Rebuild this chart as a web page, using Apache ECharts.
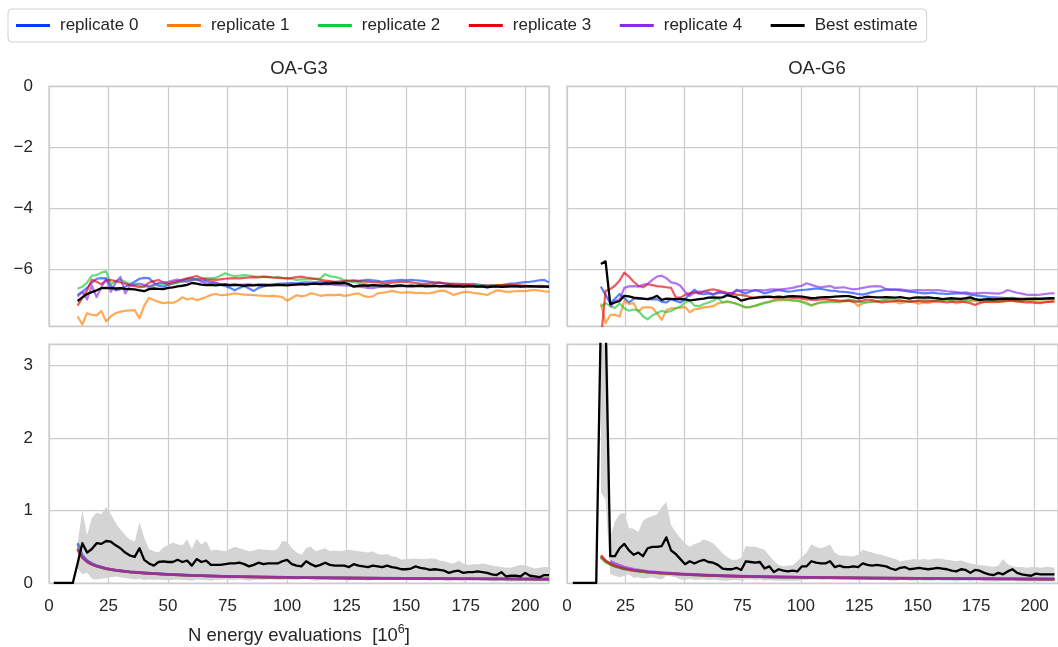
<!DOCTYPE html>
<html>
<head>
<meta charset="utf-8">
<title>OA-G3 / OA-G6 convergence</title>
<script src="https://cdn.jsdelivr.net/npm/echarts@6.0.0/dist/echarts.min.js"></script>
<style>
  html, body { margin: 0; padding: 0; background: #ffffff; }
  #chart { width: 1058px; height: 647px; }
</style>
</head>
<body>
<div id="chart"></div>
<script>
// ---------------------------------------------------------------------------
// Sampling checkpoints (N energy evaluations, in units of 10^6)
// ---------------------------------------------------------------------------
const xG3 = [];
for (let x = 12; x <= 210; x += 2) xG3.push(x);
const xG6 = [];
for (let x = 14.5; x <= 208.5; x += 2) xG6.push(x);

// checkpoints before the first estimate (uncertainty reported as zero)
const xG3Early = [2, 4, 6, 8, 10];
const g3BestUncEarly = [0, 0, 0, 0, 0];
const xG6Early = [2.5, 4.5, 6.5, 8.5, 10.5, 12.5];
const g6BestUncEarly = [0, 0, 0, 0, 0, 0];

// ---------------------------------------------------------------------------
// OA-G3 free energy estimates (kcal/mol)
// ---------------------------------------------------------------------------
const g3Rep0 = [
  -6.85, -6.75, -6.62, -6.45, -6.32, -6.30, -6.31, -6.55, -6.70, -6.66,
  -6.58, -6.50, -6.42, -6.32, -6.29, -6.30, -6.45, -6.55, -6.58, -6.52,
  -6.48, -6.43, -6.38, -6.33, -6.31, -6.34, -6.37, -6.40, -6.42, -6.45,
  -6.52, -6.56, -6.62, -6.70, -6.62, -6.56, -6.64, -6.72, -6.62, -6.57,
  -6.53, -6.50, -6.49, -6.48, -6.47, -6.46, -6.47, -6.45, -6.44, -6.45,
  -6.44, -6.43, -6.44, -6.42, -6.43, -6.42, -6.41, -6.40, -6.38, -6.39,
  -6.37, -6.36, -6.37, -6.39, -6.42, -6.40, -6.38, -6.37, -6.36, -6.37,
  -6.36, -6.37, -6.38, -6.40, -6.42, -6.44, -6.45, -6.47, -6.49, -6.50,
  -6.52, -6.51, -6.50, -6.49, -6.51, -6.53, -6.55, -6.54, -6.56, -6.53,
  -6.50, -6.48, -6.47, -6.45, -6.43, -6.42, -6.40, -6.37, -6.36, -6.44
];
const g3Rep1 = [
  -7.55, -7.82, -7.45, -7.50, -7.52, -7.38, -7.72, -7.55, -7.45, -7.40,
  -7.37, -7.36, -7.35, -7.62, -7.20, -6.95, -7.02, -7.08, -7.12, -7.10,
  -7.11, -7.05, -6.93, -7.00, -6.96, -7.02, -6.98, -6.92, -6.85, -6.82,
  -6.86, -6.85, -6.83, -6.80, -6.82, -6.84, -6.85, -6.86, -6.87, -6.88,
  -6.89, -6.88, -6.90, -6.92, -7.04, -6.95, -6.86, -6.90, -6.87, -6.80,
  -6.83, -6.88, -6.86, -6.85, -6.86, -6.84, -6.88, -6.86, -6.82, -6.80,
  -6.88, -6.92, -6.90, -6.80, -6.78, -6.76, -6.72, -6.75, -6.78, -6.77,
  -6.77, -6.79, -6.78, -6.80, -6.79, -6.76, -6.72, -6.71, -6.78, -6.85,
  -6.80, -6.76, -6.75, -6.78, -6.80, -6.82, -6.85, -6.78, -6.70, -6.72,
  -6.75, -6.74, -6.73, -6.72, -6.73, -6.70, -6.69, -6.71, -6.73, -6.75
];
const g3Rep2 = [
  -6.65, -6.58, -6.45, -6.22, -6.20, -6.12, -6.08, -6.50, -6.40, -6.35,
  -6.42, -6.50, -6.53, -6.55, -6.56, -6.60, -6.55, -6.48, -6.50, -6.49,
  -6.47, -6.45, -6.42, -6.38, -6.36, -6.34, -6.32, -6.30, -6.31, -6.29,
  -6.22, -6.14, -6.20, -6.23, -6.22, -6.20, -6.22, -6.24, -6.25, -6.26,
  -6.27, -6.28, -6.26, -6.29, -6.31, -6.33, -6.36, -6.34, -6.33, -6.34,
  -6.32, -6.31, -6.17, -6.24, -6.26, -6.30, -6.36, -6.40, -6.43, -6.45,
  -6.48, -6.52, -6.55, -6.57, -6.58, -6.57, -6.58, -6.56, -6.57, -6.56,
  -6.56, -6.54, -6.53, -6.52, -6.54, -6.55, -6.56, -6.57, -6.58, -6.57,
  -6.58, -6.57, -6.56, -6.55, -6.54, -6.53, -6.55, -6.53, -6.52, -6.53,
  -6.54, -6.55, -6.56, -6.55, -6.56, -6.57, -6.58, -6.57, -6.58, -6.58
];
const g3Rep3 = [
  -7.20, -6.95, -6.70, -6.35, -6.42, -6.50, -6.38, -6.36, -6.40, -6.44,
  -6.48, -6.53, -6.56, -6.60, -6.58, -6.45, -6.40, -6.36, -6.44, -6.49,
  -6.43, -6.40, -6.35, -6.31, -6.27, -6.23, -6.30, -6.34, -6.35, -6.36,
  -6.34, -6.32, -6.31, -6.30, -6.31, -6.29, -6.28, -6.27, -6.28, -6.25,
  -6.26, -6.28, -6.29, -6.30, -6.31, -6.29, -6.27, -6.25, -6.28, -6.30,
  -6.33, -6.36, -6.38, -6.40, -6.42, -6.41, -6.40, -6.38, -6.38, -6.40,
  -6.41, -6.42, -6.43, -6.44, -6.46, -6.47, -6.45, -6.43, -6.42, -6.42,
  -6.44, -6.46, -6.48, -6.49, -6.47, -6.46, -6.45, -6.47, -6.48, -6.49,
  -6.49, -6.50, -6.52, -6.54, -6.56, -6.55, -6.54, -6.55, -6.54, -6.53,
  -6.53, -6.52, -6.53, -6.54, -6.55, -6.56, -6.56, -6.55, -6.56, -6.56
];
const g3Rep4 = [
  -6.90, -6.75, -7.00, -6.55, -6.92, -6.60, -6.32, -6.75, -6.45, -6.26,
  -6.80, -6.55, -6.50, -6.48, -6.52, -6.57, -6.52, -6.46, -6.45, -6.42,
  -6.38, -6.35, -6.40, -6.42, -6.37, -6.34, -6.42, -6.48, -6.47, -6.47,
  -6.49, -6.50, -6.51, -6.50, -6.52, -6.51, -6.50, -6.52, -6.51, -6.50,
  -6.51, -6.52, -6.50, -6.51, -6.52, -6.51, -6.50, -6.49, -6.50, -6.49,
  -6.48, -6.50, -6.51, -6.50, -6.52, -6.53, -6.54, -6.55, -6.56, -6.58,
  -6.60, -6.62, -6.63, -6.60, -6.58, -6.57, -6.58, -6.56, -6.55, -6.56,
  -6.57, -6.56, -6.55, -6.56, -6.57, -6.56, -6.55, -6.56, -6.57, -6.56,
  -6.57, -6.58, -6.56, -6.57, -6.58, -6.57, -6.59, -6.58, -6.57, -6.58,
  -6.57, -6.56, -6.57, -6.58, -6.57, -6.56, -6.57, -6.58, -6.57, -6.58
];
const g3Best = [
  -7.05, -6.93, -6.82, -6.76, -6.70, -6.63, -6.62, -6.63, -6.64, -6.63,
  -6.65, -6.66, -6.67, -6.70, -6.73, -6.66, -6.64, -6.65, -6.66, -6.62,
  -6.60, -6.57, -6.55, -6.52, -6.46, -6.48, -6.51, -6.53, -6.52, -6.54,
  -6.52, -6.51, -6.54, -6.52, -6.53, -6.55, -6.53, -6.54, -6.52, -6.54,
  -6.53, -6.54, -6.52, -6.53, -6.54, -6.52, -6.51, -6.50, -6.51, -6.49,
  -6.48, -6.50, -6.47, -6.48, -6.46, -6.47, -6.46, -6.50, -6.58, -6.55,
  -6.54, -6.55, -6.53, -6.54, -6.55, -6.54, -6.56, -6.55, -6.54, -6.56,
  -6.55, -6.56, -6.55, -6.57, -6.56, -6.55, -6.57, -6.56, -6.55, -6.57,
  -6.56, -6.58, -6.56, -6.57, -6.58, -6.57, -6.60, -6.58, -6.57, -6.59,
  -6.58, -6.57, -6.56, -6.58, -6.57, -6.56, -6.57, -6.58, -6.58, -6.59
];

// OA-G3 uncertainties (kcal/mol)
const g3BestUnc = [
  0.27, 0.55, 0.42, 0.47, 0.55, 0.54, 0.58, 0.57, 0.52, 0.48,
  0.42, 0.38, 0.36, 0.48, 0.32, 0.27, 0.24, 0.29, 0.30, 0.29,
  0.29, 0.32, 0.29, 0.31, 0.24, 0.33, 0.29, 0.31, 0.25, 0.25,
  0.25, 0.26, 0.27, 0.27, 0.28, 0.26, 0.23, 0.25, 0.28, 0.26,
  0.27, 0.27, 0.27, 0.30, 0.32, 0.26, 0.24, 0.23, 0.30, 0.26,
  0.23, 0.25, 0.28, 0.25, 0.24, 0.24, 0.24, 0.22, 0.26, 0.24,
  0.23, 0.22, 0.24, 0.23, 0.22, 0.24, 0.22, 0.21, 0.19, 0.19,
  0.20, 0.23, 0.21, 0.20, 0.18, 0.19, 0.18, 0.17, 0.14, 0.16,
  0.17, 0.14, 0.15, 0.15, 0.16, 0.15, 0.14, 0.12, 0.11, 0.15,
  0.09, 0.10, 0.10, 0.09, 0.14, 0.10, 0.09, 0.08, 0.11, 0.11
];
const g3BandHi = [
  0.55, 1.00, 0.66, 0.90, 0.97, 0.95, 1.05, 0.95, 0.83, 0.74,
  0.66, 0.60, 0.57, 0.84, 0.62, 0.47, 0.44, 0.42, 0.49, 0.52,
  0.56, 0.53, 0.52, 0.60, 0.47, 0.61, 0.53, 0.58, 0.45, 0.46,
  0.45, 0.44, 0.47, 0.50, 0.48, 0.46, 0.44, 0.45, 0.47, 0.46,
  0.46, 0.45, 0.47, 0.58, 0.57, 0.48, 0.42, 0.39, 0.48, 0.50,
  0.44, 0.46, 0.48, 0.44, 0.45, 0.44, 0.45, 0.46, 0.45, 0.44,
  0.43, 0.42, 0.44, 0.40, 0.39, 0.40, 0.37, 0.36, 0.32, 0.33,
  0.33, 0.34, 0.33, 0.33, 0.34, 0.34, 0.31, 0.30, 0.28, 0.27,
  0.31, 0.27, 0.25, 0.26, 0.26, 0.27, 0.26, 0.24, 0.23, 0.22,
  0.21, 0.21, 0.23, 0.25, 0.24, 0.22, 0.20, 0.21, 0.22, 0.22
];
const g3BandLo = [
  0.20, 0.12, 0.14, 0.06, 0.05, 0.06, 0.07, 0.08, 0.09, 0.08,
  0.07, 0.06, 0.05, 0.06, 0.04, 0.05, 0.04, 0.05, 0.04, 0.04,
  0.04, 0.05, 0.04, 0.04, 0.03, 0.05, 0.04, 0.04, 0.03, 0.04,
  0.04, 0.05, 0.04, 0.04, 0.05, 0.04, 0.03, 0.04, 0.05, 0.04,
  0.05, 0.05, 0.04, 0.04, 0.05, 0.04, 0.04, 0.05, 0.06, 0.04,
  0.03, 0.04, 0.05, 0.04, 0.04, 0.04, 0.04, 0.03, 0.05, 0.04,
  0.04, 0.03, 0.04, 0.05, 0.04, 0.05, 0.04, 0.04, 0.04, 0.04,
  0.05, 0.06, 0.05, 0.04, 0.03, 0.04, 0.04, 0.03, 0.02, 0.03,
  0.03, 0.02, 0.03, 0.03, 0.04, 0.03, 0.03, 0.02, 0.02, 0.04,
  0.02, 0.02, 0.02, 0.02, 0.03, 0.02, 0.02, 0.02, 0.02, 0.02
];
// per-replicate statistical uncertainty, read at coarser checkpoints
const xG3Unc = [12, 14, 16, 18, 20, 24, 28, 34, 40, 50, 60, 75, 90, 110, 130, 150, 175, 200, 210];
const g3Unc0 = [0.55, 0.38, 0.31, 0.27, 0.24, 0.20, 0.18, 0.155, 0.14, 0.12, 0.105, 0.09, 0.082, 0.074, 0.068, 0.064, 0.059, 0.055, 0.054];
const g3Unc1 = [0.50, 0.36, 0.30, 0.26, 0.235, 0.20, 0.175, 0.152, 0.137, 0.118, 0.104, 0.09, 0.081, 0.073, 0.067, 0.063, 0.058, 0.055, 0.053];
const g3Unc2 = [0.48, 0.35, 0.30, 0.26, 0.23, 0.195, 0.172, 0.15, 0.135, 0.117, 0.103, 0.089, 0.08, 0.072, 0.067, 0.062, 0.058, 0.054, 0.053];
const g3Unc3 = [0.46, 0.35, 0.29, 0.255, 0.23, 0.197, 0.174, 0.151, 0.136, 0.118, 0.104, 0.09, 0.081, 0.073, 0.067, 0.063, 0.058, 0.055, 0.054];
const g3Unc4 = [0.47, 0.36, 0.30, 0.26, 0.235, 0.20, 0.176, 0.153, 0.138, 0.119, 0.105, 0.091, 0.082, 0.074, 0.068, 0.064, 0.059, 0.056, 0.054];

// ---------------------------------------------------------------------------
// OA-G6 free energy estimates (kcal/mol)
// ---------------------------------------------------------------------------
const g6Rep0 = [
  -6.58, -6.85, -7.12, -6.98, -6.82, -6.96, -7.10, -6.98, -6.96, -6.98,
  -6.99, -7.00, -6.99, -7.08, -7.10, -6.99, -7.05, -7.10, -6.99, -6.82,
  -6.68, -6.80, -6.83, -6.80, -6.84, -6.76, -6.78, -6.82, -6.84, -6.68,
  -6.75, -6.80, -6.74, -6.69, -6.74, -6.80, -6.76, -6.72, -6.69, -6.72,
  -6.74, -6.73, -6.70, -6.69, -6.68, -6.66, -6.64, -6.65, -6.68, -6.71,
  -6.72, -6.74, -6.75, -6.77, -6.79, -6.82, -6.84, -6.80, -6.76, -6.73,
  -6.70, -6.68, -6.67, -6.68, -6.70, -6.72, -6.74, -6.76, -6.78, -6.80,
  -6.79, -6.78, -6.80, -6.81, -6.82, -6.81, -6.80, -6.79, -6.81, -6.84,
  -6.86, -6.88, -6.90, -6.92, -6.93, -6.94, -6.95, -6.96, -6.95, -6.96,
  -6.97, -6.96, -6.97, -6.98, -6.97, -6.96, -6.97, -6.96
];
const g6Rep1 = [
  -7.13, -7.78, -7.51, -7.50, -7.56, -7.05, -7.15, -7.12, -7.40, -7.26,
  -7.26, -7.27, -7.45, -7.67, -7.35, -7.29, -7.29, -7.27, -7.25, -7.42,
  -7.32, -7.30, -7.26, -7.24, -7.22, -7.13, -7.10, -7.08, -7.10, -7.13,
  -7.21, -7.26, -7.25, -7.20, -7.16, -7.10, -7.08, -7.05, -7.03, -7.02,
  -7.02, -7.03, -7.05, -7.07, -7.10, -7.21, -7.14, -7.10, -7.08, -7.04,
  -7.06, -7.10, -7.06, -7.04, -7.08, -7.21, -7.13, -7.10, -7.08, -7.07,
  -7.06, -7.04, -7.05, -7.08, -7.13, -7.09, -7.07, -7.09, -7.14, -7.10,
  -7.12, -7.08, -7.06, -7.04, -7.03, -7.06, -7.13, -7.09, -7.06, -7.04,
  -7.05, -7.07, -7.07, -7.08, -7.09, -7.08, -7.06, -7.04, -7.05, -7.06,
  -7.07, -7.06, -7.05, -7.07, -7.08, -7.07, -7.06, -7.05
];
const g6Rep2 = [
  -7.24, -7.12, -7.22, -7.28, -7.13, -7.29, -7.37, -7.33, -7.36, -7.55,
  -7.65, -7.52, -7.45, -7.37, -7.42, -7.38, -7.29, -7.23, -7.10, -7.04,
  -7.20, -7.22, -7.15, -7.10, -7.04, -6.95, -7.10, -7.06, -7.10, -7.15,
  -7.20, -7.26, -7.24, -7.21, -7.16, -7.12, -7.08, -7.02, -6.99, -7.00,
  -7.01, -7.03, -7.04, -7.08, -7.15, -7.18, -7.14, -7.10, -7.10, -7.09,
  -7.08, -7.06, -7.03, -7.00, -7.02, -7.07, -7.10, -7.08, -7.07, -7.06,
  -7.03, -7.00, -6.98, -7.01, -7.04, -7.06, -7.07, -7.05, -7.03, -7.02,
  -7.03, -7.04, -7.02, -7.00, -7.01, -7.02, -7.01, -7.00, -7.02, -7.01,
  -7.00, -6.99, -7.01, -7.02, -7.04, -7.03, -7.02, -7.01, -7.00, -7.01,
  -7.00, -6.99, -7.00, -7.01, -7.00, -6.99, -6.98, -6.98
];
const g6Rep3 = [
  -8.30, -6.72, -6.66, -6.55, -6.38, -6.12, -6.25, -6.42, -6.55, -6.60,
  -6.50, -6.53, -6.56, -6.58, -6.60, -6.62, -6.93, -6.94, -6.85, -6.80,
  -6.76, -6.80, -6.74, -6.69, -6.67, -6.70, -6.74, -6.78, -6.80, -6.85,
  -6.85, -6.88, -6.92, -6.93, -6.91, -6.90, -6.92, -6.93, -6.94, -6.93,
  -6.93, -6.95, -6.96, -6.97, -7.00, -7.01, -7.02, -7.00, -6.99, -7.01,
  -7.02, -7.04, -7.05, -7.04, -7.07, -7.06, -7.04, -7.00, -7.02, -7.06,
  -7.10, -7.08, -7.07, -7.05, -7.04, -7.05, -7.07, -7.06, -7.05, -7.07,
  -7.06, -7.05, -7.06, -7.08, -7.10, -7.08, -7.07, -7.06, -7.09, -7.12,
  -7.18, -7.12, -7.08, -7.07, -7.06, -7.07, -7.06, -7.05, -7.04, -7.06,
  -7.08, -7.10, -7.09, -7.11, -7.12, -7.09, -7.08, -7.07
];
const g6Rep4 = [
  null, null, -7.25, -7.05, -7.00, -6.62, -6.57, -6.56, -6.58, -6.52,
  -6.49, -6.36, -6.25, -6.22, -6.30, -6.44, -6.47, -6.55, -6.75, -6.88,
  -6.78, -6.74, -6.74, -6.76, -6.84, -6.79, -6.77, -6.80, -6.78, -6.72,
  -6.70, -6.69, -6.71, -6.70, -6.69, -6.70, -6.68, -6.67, -6.68, -6.66,
  -6.64, -6.62, -6.58, -6.55, -6.47, -6.52, -6.57, -6.60, -6.58, -6.56,
  -6.62, -6.61, -6.60, -6.64, -6.67, -6.65, -6.62, -6.59, -6.57, -6.56,
  -6.58, -6.66, -6.69, -6.68, -6.67, -6.69, -6.71, -6.70, -6.69, -6.70,
  -6.69, -6.70, -6.69, -6.71, -6.73, -6.74, -6.76, -6.78, -6.77, -6.79,
  -6.80, -6.79, -6.78, -6.79, -6.80, -6.81, -6.77, -6.69, -6.74, -6.78,
  -6.81, -6.84, -6.85, -6.85, -6.84, -6.82, -6.80, -6.80
];
const g6Best = [
  -5.84, -5.75, -7.15, -7.10, -7.05, -6.88, -6.90, -6.94, -6.96, -6.97,
  -6.99, -6.95, -6.88, -7.01, -6.97, -6.98, -6.99, -6.98, -7.00, -7.03,
  -7.01, -6.99, -6.97, -6.94, -6.93, -6.94, -6.93, -6.86, -6.90, -6.93,
  -7.04, -7.00, -6.96, -6.95, -6.93, -6.92, -6.91, -6.92, -6.91, -6.92,
  -6.90, -6.89, -6.90, -6.91, -6.93, -6.96, -6.95, -6.93, -6.92, -6.92,
  -6.91, -6.90, -6.89, -6.89, -6.92, -6.96, -6.94, -6.91, -6.92, -6.93,
  -6.93, -6.92, -6.93, -6.94, -6.92, -6.95, -6.97, -6.94, -6.93, -6.94,
  -6.93, -6.95, -6.96, -6.99, -6.97, -6.96, -6.97, -6.98, -6.96, -6.93,
  -6.99, -7.02, -7.00, -6.99, -7.00, -6.99, -6.98, -6.97, -6.98, -6.99,
  -7.00, -6.99, -6.98, -6.97, -6.98, -6.97, -6.96, -6.96
];

// OA-G6 uncertainties (kcal/mol)
const g6BestUnc = [
  3.70, 3.65, 0.37, 0.37, 0.48, 0.54, 0.45, 0.39, 0.42, 0.37,
  0.48, 0.50, 0.50, 0.51, 0.63, 0.45, 0.40, 0.33, 0.26, 0.30,
  0.27, 0.30, 0.32, 0.29, 0.28, 0.25, 0.20, 0.19, 0.19, 0.21,
  0.18, 0.30, 0.29, 0.28, 0.29, 0.20, 0.23, 0.15, 0.19, 0.17,
  0.16, 0.17, 0.16, 0.23, 0.23, 0.30, 0.28, 0.27, 0.27, 0.30,
  0.22, 0.24, 0.22, 0.22, 0.23, 0.22, 0.27, 0.25, 0.24, 0.25,
  0.24, 0.23, 0.20, 0.18, 0.21, 0.22, 0.19, 0.20, 0.21, 0.20,
  0.19, 0.20, 0.21, 0.20, 0.19, 0.17, 0.16, 0.19, 0.18, 0.14,
  0.18, 0.17, 0.14, 0.12, 0.11, 0.14, 0.12, 0.16, 0.19, 0.14,
  0.12, 0.11, 0.10, 0.13, 0.12, 0.12, 0.12, 0.12
];
const g6BandHi = [
  6.20, 6.10, 0.64, 0.85, 0.95, 0.97, 0.76, 0.75, 0.70, 0.86,
  0.90, 0.92, 0.95, 1.05, 1.12, 0.80, 0.70, 0.62, 0.55, 0.50,
  0.54, 0.56, 0.60, 0.58, 0.55, 0.48, 0.41, 0.36, 0.32, 0.32,
  0.35, 0.51, 0.50, 0.50, 0.48, 0.46, 0.38, 0.30, 0.25, 0.23,
  0.24, 0.24, 0.30, 0.36, 0.42, 0.53, 0.50, 0.48, 0.50, 0.53,
  0.42, 0.38, 0.38, 0.37, 0.37, 0.39, 0.46, 0.44, 0.42, 0.40,
  0.39, 0.37, 0.35, 0.33, 0.30, 0.31, 0.32, 0.33, 0.32, 0.33,
  0.32, 0.33, 0.34, 0.33, 0.32, 0.31, 0.30, 0.31, 0.29, 0.27,
  0.26, 0.25, 0.24, 0.23, 0.22, 0.24, 0.33, 0.26, 0.23, 0.22,
  0.22, 0.21, 0.22, 0.22, 0.21, 0.22, 0.22, 0.21
];
const g6BandLo = [
  1.25, 1.15, 0.12, 0.10, 0.08, 0.10, 0.12, 0.07, 0.08, 0.06,
  0.07, 0.08, 0.06, 0.05, 0.10, 0.09, 0.08, 0.05, 0.04, 0.06,
  0.04, 0.05, 0.05, 0.04, 0.05, 0.04, 0.03, 0.03, 0.04, 0.04,
  0.03, 0.05, 0.05, 0.04, 0.05, 0.03, 0.04, 0.03, 0.03, 0.03,
  0.03, 0.03, 0.03, 0.04, 0.04, 0.05, 0.05, 0.04, 0.04, 0.05,
  0.04, 0.04, 0.04, 0.04, 0.04, 0.04, 0.05, 0.04, 0.04, 0.05,
  0.04, 0.04, 0.03, 0.03, 0.04, 0.04, 0.03, 0.03, 0.04, 0.03,
  0.03, 0.03, 0.04, 0.03, 0.03, 0.03, 0.02, 0.03, 0.03, 0.02,
  0.03, 0.03, 0.02, 0.02, 0.02, 0.02, 0.03, 0.03, 0.04, 0.02,
  0.02, 0.02, 0.02, 0.02, 0.02, 0.02, 0.02, 0.02
];
const xG6Unc = [14.5, 16.5, 18.5, 20.5, 24.5, 28.5, 34.5, 40.5, 50.5, 60.5, 74.5, 90.5, 110.5, 130.5, 150.5, 174.5, 194.5, 208.5];
const g6Unc0 = [0.36, 0.30, 0.26, 0.23, 0.195, 0.172, 0.15, 0.135, 0.118, 0.104, 0.091, 0.082, 0.074, 0.068, 0.064, 0.059, 0.056, 0.054];
const g6Unc1 = [0.37, 0.30, 0.26, 0.235, 0.197, 0.173, 0.151, 0.136, 0.118, 0.105, 0.092, 0.082, 0.074, 0.069, 0.064, 0.059, 0.056, 0.054];
const g6Unc2 = [0.35, 0.29, 0.255, 0.23, 0.194, 0.17, 0.149, 0.134, 0.117, 0.104, 0.09, 0.081, 0.073, 0.068, 0.063, 0.058, 0.055, 0.053];
const g6Unc3 = [0.38, 0.31, 0.265, 0.238, 0.20, 0.175, 0.152, 0.137, 0.119, 0.105, 0.092, 0.083, 0.075, 0.069, 0.064, 0.059, 0.056, 0.054];
const g6Unc4 = [null, null, 0.30, 0.27, 0.22, 0.19, 0.162, 0.145, 0.124, 0.109, 0.095, 0.085, 0.076, 0.07, 0.065, 0.06, 0.057, 0.055];

// ---------------------------------------------------------------------------
// Labels and styling
// ---------------------------------------------------------------------------
const panelTitles = ['OA-G3', 'OA-G6'];
const repNames = ['replicate 0', 'replicate 1', 'replicate 2', 'replicate 3', 'replicate 4'];
const bestName = 'Best estimate';
const xAxisTitle = 'N energy evaluations  [10';

const repColors = ['#023eff', '#ff7c00', '#1ac938', '#e8000b', '#8b2be2'];
const FONT = '"Liberation Sans", Arial, Helvetica, sans-serif';
const INK = '#262626';
const RULE = '#cccccc';
const TICK_SIZE = 17;
const LABEL_SIZE = 18.5;

function pairs(xs, ys) {
  const out = [];
  for (let i = 0; i < xs.length; i++) {
    if (ys[i] !== null && ys[i] !== undefined) out.push([xs[i], ys[i]]);
  }
  return out;
}

function lineSeries(name, panel, xs, ys, color, width, opacity, z) {
  return {
    name: name,
    type: 'line',
    xAxisIndex: panel,
    yAxisIndex: panel,
    data: pairs(xs, ys),
    showSymbol: false,
    symbol: 'none',
    color: color,
    lineStyle: { color: color, width: width, opacity: opacity, join: 'round' },
    itemStyle: { color: color },
    emphasis: { disabled: true },
    silent: true,
    clip: true,
    z: z
  };
}

// shaded spread of the best estimate, drawn as one polygon in data space
function bandSeries(panel, xs, lo, hi) {
  return {
    type: 'custom',
    xAxisIndex: panel,
    yAxisIndex: panel,
    clip: true,
    silent: true,
    z: 1,
    data: xs.map((x, i) => [x, lo[i], hi[i]]),
    renderItem: function (params, api) {
      if (params.dataIndex !== 0) return null;
      const pts = [];
      for (let i = 0; i < xs.length; i++) pts.push(api.coord([xs[i], hi[i]]));
      for (let i = xs.length - 1; i >= 0; i--) pts.push(api.coord([xs[i], lo[i]]));
      return { type: 'polygon', shape: { points: pts }, style: { fill: '#d4d4d4' } };
    }
  };
}

const g3Reps = [g3Rep0, g3Rep1, g3Rep2, g3Rep3, g3Rep4];
const g6Reps = [g6Rep0, g6Rep1, g6Rep2, g6Rep3, g6Rep4];
const g3Uncs = [g3Unc0, g3Unc1, g3Unc2, g3Unc3, g3Unc4];
const g6Uncs = [g6Unc0, g6Unc1, g6Unc2, g6Unc3, g6Unc4];

const series = [];
// top row: free energy traces
g3Reps.forEach((ys, k) => series.push(lineSeries(repNames[k], 0, xG3, ys, repColors[k], 2.2, 0.65, 2)));
series.push(lineSeries(bestName, 0, xG3, g3Best, '#000000', 2.3, 1, 3));
g6Reps.forEach((ys, k) => series.push(lineSeries(repNames[k], 1, xG6, ys, repColors[k], 2.2, 0.65, 2)));
series.push(lineSeries(bestName, 1, xG6, g6Best, '#000000', 2.3, 1, 3));
// bottom row: uncertainties
series.push(bandSeries(2, xG3, g3BandLo, g3BandHi));
g3Uncs.forEach((ys, k) => series.push(lineSeries(repNames[k], 2, xG3Unc, ys, repColors[k], 2.6, 0.65, 2)));
series.push(lineSeries(bestName, 2, xG3Early.concat(xG3), g3BestUncEarly.concat(g3BestUnc), '#000000', 2.3, 1, 3));
series.push(bandSeries(3, xG6, g6BandLo, g6BandHi));
g6Uncs.forEach((ys, k) => series.push(lineSeries(repNames[k], 3, xG6Unc, ys, repColors[k], 2.6, 0.65, 2)));
series.push(lineSeries(bestName, 3, xG6Early.concat(xG6), g6BestUncEarly.concat(g6BestUnc), '#000000', 2.3, 1, 3));

const minus = v => (v < 0 ? '\u2212' + Math.abs(v) : String(v));

function xAxisFor(panel, showLabels) {
  const ax = {
    type: 'value',
    gridIndex: panel,
    min: 0,
    max: 210,
    interval: 25,
    axisLine: { show: false },
    axisTick: { show: false },
    splitLine: { show: true, lineStyle: { color: RULE, width: 1.25 } },
    axisLabel: {
      show: showLabels,
      showMaxLabel: false,
      margin: 15,
      fontSize: TICK_SIZE,
      fontFamily: FONT,
      color: INK
    }
  };
  if (panel === 2) {
    ax.name = '{t|' + xAxisTitle + '}{s|6}{t|]}';
    ax.nameLocation = 'middle';
    ax.nameGap = 40;
    ax.nameTextStyle = {
      rich: {
        t: { fontSize: LABEL_SIZE, fontFamily: FONT, color: INK, lineHeight: 22, verticalAlign: 'bottom' },
        s: { fontSize: 12.5, fontFamily: FONT, color: INK, lineHeight: 13, verticalAlign: 'top' }
      }
    };
  }
  return ax;
}

function yAxisFor(panel, range, showLabels) {
  return {
    type: 'value',
    gridIndex: panel,
    min: range[0],
    max: range[1],
    splitNumber: 4,
    axisLine: { show: false },
    axisTick: { show: false },
    splitLine: { show: true, lineStyle: { color: RULE, width: 1.25 } },
    axisLabel: {
      show: showLabels,
      showMinLabel: range[0] === 0,
      showMaxLabel: range[1] === 0,
      margin: 16,
      fontSize: TICK_SIZE,
      fontFamily: FONT,
      color: INK,
      formatter: minus
    }
  };
}

const topRange = [-7.87, 0];
const bottomRange = [0, 3.3];

const gridBase = { show: true, borderColor: RULE, borderWidth: 1.25, backgroundColor: '#ffffff' };

const option = {
  animation: false,
  backgroundColor: '#ffffff',
  textStyle: { fontFamily: FONT, color: INK },
  grid: [
    Object.assign({ left: 49, top: 86, width: 500, height: 240 }, gridBase),
    Object.assign({ left: 567, top: 86, width: 500, height: 240 }, gridBase),
    Object.assign({ left: 49, top: 344, width: 500, height: 239 }, gridBase),
    Object.assign({ left: 567, top: 344, width: 500, height: 239 }, gridBase)
  ],
  xAxis: [xAxisFor(0, false), xAxisFor(1, false), xAxisFor(2, true), xAxisFor(3, true)],
  yAxis: [
    yAxisFor(0, topRange, true),
    yAxisFor(1, topRange, false),
    yAxisFor(2, bottomRange, true),
    yAxisFor(3, bottomRange, false)
  ],
  legend: {
    left: 8,
    top: 9,
    padding: [8, 9, 8, 8],
    itemGap: 28.5,
    itemWidth: 34,
    itemHeight: 2.8,
    borderColor: '#d0d0d0',
    borderWidth: 1,
    borderRadius: 4,
    backgroundColor: '#ffffff',
    selectedMode: false,
    textStyle: { fontSize: TICK_SIZE, fontFamily: FONT, color: INK, padding: [0, 0, 0, 5] },
    data: repNames.concat([bestName]).map((n, i) => ({
      name: n,
      icon: 'rect',
      itemStyle: { color: i < 5 ? repColors[i] : '#000000', opacity: 1, borderWidth: 0 }
    }))
  },
  graphic: [
    { type: 'text', x: 299, y: 69, silent: true,
      style: { text: panelTitles[0], align: 'center', verticalAlign: 'middle', fill: INK, font: LABEL_SIZE + 'px ' + FONT } },
    { type: 'text', x: 817, y: 69, silent: true,
      style: { text: panelTitles[1], align: 'center', verticalAlign: 'middle', fill: INK, font: LABEL_SIZE + 'px ' + FONT } }
  ],
  series: series
};

const chart = echarts.init(document.getElementById('chart'), null, { renderer: 'canvas' });
chart.setOption(option);
</script>
</body>
</html>
